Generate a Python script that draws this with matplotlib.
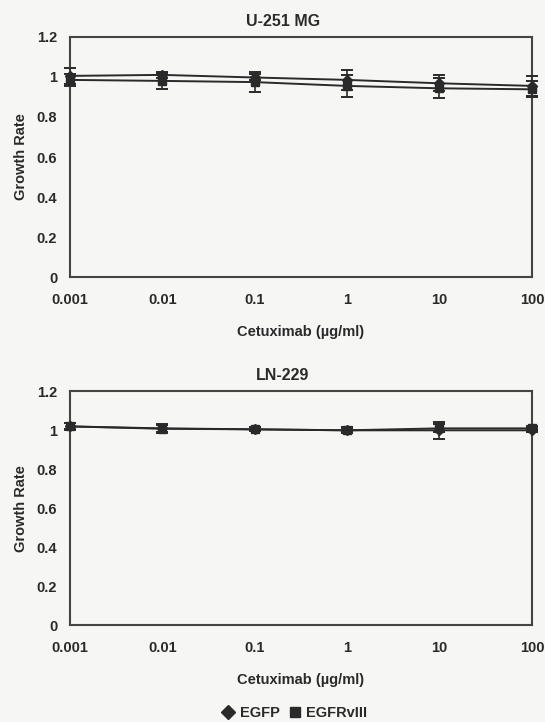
import matplotlib
matplotlib.use('Agg')
import matplotlib.pyplot as plt
from matplotlib.ticker import FixedLocator, FixedFormatter, NullLocator
from matplotlib.lines import Line2D

plt.rcParams['font.family'] = ['Liberation Sans', 'DejaVu Sans']

# Cetuximab doses (ug/ml)
doses = [0.001, 0.01, 0.1, 1, 10, 100]
x_tick_labels = ['0.001', '0.01', '0.1', '1', '10', '100']
y_ticks = [0, 0.2, 0.4, 0.6, 0.8, 1.0, 1.2]
y_tick_labels = ['0', '0.2', '0.4', '0.6', '0.8', '1', '1.2']

# U-251 MG
u251_egfp = [1.005, 1.01, 0.997, 0.985, 0.968, 0.955]
u251_egfp_err = [0.04, 0.015, 0.015, 0.05, 0.04, 0.05]
u251_vIII = [0.985, 0.98, 0.974, 0.955, 0.943, 0.938]
u251_vIII_err = [0.03, 0.04, 0.05, 0.055, 0.05, 0.04]

# LN-229
ln229_egfp = [1.02, 1.01, 1.005, 1.0, 1.0, 1.0]
ln229_egfp_err = [0.02, 0.02, 0.01, 0.01, 0.045, 0.01]
ln229_vIII = [1.02, 1.008, 1.005, 1.0, 1.01, 1.01]
ln229_vIII_err = [0.015, 0.02, 0.01, 0.015, 0.02, 0.01]

ink = '#2a2a2a'
bg = '#f6f6f4'

fig = plt.figure(figsize=(5.45, 7.22), dpi=100)
fig.patch.set_facecolor(bg)

panels = [
    ('U-251 MG', [0.128, 0.616, 0.848, 0.333], u251_egfp, u251_egfp_err, u251_vIII, u251_vIII_err),
    ('LN-229', [0.128, 0.134, 0.848, 0.324], ln229_egfp, ln229_egfp_err, ln229_vIII, ln229_vIII_err),
]

for title, rect, egfp, egfp_err, v3, v3_err in panels:
    ax = fig.add_axes(rect)
    ax.set_facecolor(bg)
    ax.errorbar(doses, egfp, yerr=egfp_err, color=ink, lw=1.4, marker='D',
                ms=5.5, capsize=4, elinewidth=1.2, capthick=1.4, zorder=3)
    ax.errorbar(doses, v3, yerr=v3_err, color=ink, lw=1.4, marker='s',
                ms=5.5, capsize=4, elinewidth=1.2, capthick=1.4, zorder=3)
    ax.set_xscale('log')
    ax.set_xlim(0.001, 100)
    ax.set_ylim(0, 1.2)
    ax.xaxis.set_major_locator(FixedLocator(doses))
    ax.xaxis.set_major_formatter(FixedFormatter(x_tick_labels))
    ax.xaxis.set_minor_locator(NullLocator())
    ax.set_yticks(y_ticks)
    ax.set_yticklabels(y_tick_labels)
    ax.tick_params(axis='both', length=0, labelsize=10.5, colors=ink)
    ax.tick_params(axis='x', pad=11)
    ax.tick_params(axis='y', pad=9)
    for lab in ax.get_xticklabels() + ax.get_yticklabels():
        lab.set_fontweight('bold')
    for sp in ax.spines.values():
        sp.set_linewidth(1.5)
        sp.set_color('#444444')
    ax.set_title(title, fontsize=11.5, fontweight='bold', color=ink, pad=8, x=0.461)
    ax.set_ylabel('Growth Rate', fontsize=10.5, fontweight='bold', color=ink, labelpad=6)
    ax.set_xlabel('Cetuximab (\u00b5g/ml)', fontsize=10.5, fontweight='bold', color=ink, labelpad=13)
    for child in ax.get_children():
        if isinstance(child, Line2D):
            child.set_clip_on(False)

handles = [
    Line2D([], [], color=ink, marker='D', linestyle='none', ms=7),
    Line2D([], [], color=ink, marker='s', linestyle='none', ms=7),
]
leg = fig.legend(handles, ['EGFP', 'EGFRvIII'], loc='center', bbox_to_anchor=(0.54, 0.013),
                 ncol=2, frameon=False, handletextpad=0.3, columnspacing=0.5,
                 handlelength=1.0, prop={'size': 10.5, 'weight': 'bold'})
for t in leg.get_texts():
    t.set_color(ink)

fig.savefig('out.png', dpi=100, facecolor=fig.get_facecolor())
